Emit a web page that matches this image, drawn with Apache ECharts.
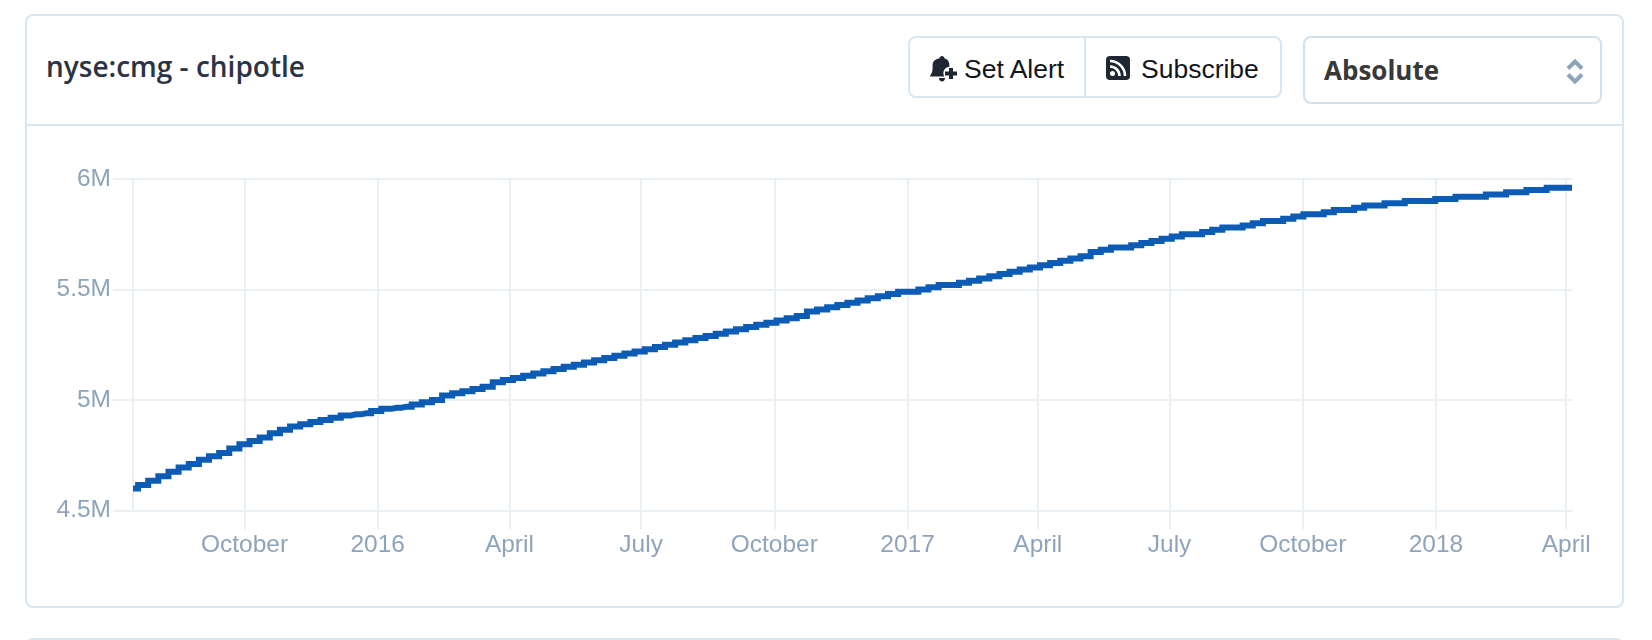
<!DOCTYPE html>
<html>
<head>
<meta charset="utf-8">
<title>nyse:cmg - chipotle</title>
<script src="https://cdn.jsdelivr.net/npm/echarts@6/dist/echarts.min.js"></script>
<style>
    html, body { margin: 0; padding: 0; background: #fff; }
    #page { position: relative; width: 1652px; height: 640px; overflow: hidden; }
    #main { position: absolute; left: 0; top: 0; width: 1652px; height: 640px; }
    .box { position: absolute; box-sizing: border-box; border: 2px solid #d8e6f2; border-radius: 8px; background: #fff; }
    .line { position: absolute; background: #d8e6f2; }
    .txt { position: absolute; white-space: nowrap; line-height: 1; }
    .btn { font: 26.5px "Liberation Sans", sans-serif; color: #12161c; }
    svg { position: absolute; }
</style>
</head>
<body>
<div id="page">
    <div class="box" style="left:25px;top:14px;width:1599px;height:594px"></div>
    <div class="line" style="left:25px;top:124px;width:1599px;height:2px"></div>
    <div class="box" style="left:25px;top:638px;width:1599px;height:20px"></div>
    <div class="txt" style="left:46px;top:47px;font:600 28px 'Open Sans',sans-serif;color:#2a3444">nyse:cmg - chipotle</div>

    <div class="box" style="left:908px;top:36px;width:374px;height:62px"></div>
    <div class="line" style="left:1084px;top:37px;width:2px;height:60px"></div>
    <svg style="left:930px;top:56px" width="28" height="26" viewBox="0 0 28 26">
        <path fill="#1f2733" d="M12 0c1.4 0 2.4 1 2.4 2.2 3.4.9 5 3.6 5 7v1.6c-3.6.4-6 3-6 6.400 0 1.200.3 2.300.9 3.300H0c0-1.500 2.600-2.600 2.600-8.700V9.200c0-3.400 2-6.100 7-7C9.600 1 10.600 0 12 0zM9 22h6c0 2-1.300 3.500-3 3.500S9 24 9 22z"/>
        <path fill="#1f2733" d="M19 12h4v3.500h4v4h-4V23h-4v-3.500h-4v-4h4z"/>
    </svg>
    <div class="txt btn" style="left:964px;top:54px">Set Alert</div>
    <svg style="left:1106px;top:56px" width="24" height="24" viewBox="0 0 24 24">
        <rect width="24" height="24" rx="4" fill="#1f2733"/>
        <circle cx="6.500" cy="17.500" r="2.500" fill="#fff"/>
        <path fill="none" stroke="#fff" stroke-width="2.600" d="M4 10.500a9.500 9.500 0 0 1 9.500 9.500M4 5a15 15 0 0 1 15 15"/>
    </svg>
    <div class="txt btn" style="left:1141px;top:54px">Subscribe</div>

    <div class="box" style="left:1303px;top:36px;width:299px;height:68px;border-color:#d2e0ec"></div>
    <div class="txt" style="left:1324px;top:52px;font:700 26px 'Open Sans',sans-serif;color:#383838">Absolute</div>
    <svg style="left:1566px;top:59px" width="18" height="25" viewBox="0 0 18 25">
        <path fill="none" stroke="#8ea4bb" stroke-width="4" d="M2 9.500l7-7 7 7M2 15.500l7 7 7-7"/>
    </svg>
    <div id="main"></div>
</div>
<script>
// one reading a week, in millions
const startDate = '2015-07-16';
const values = [
    4.60, 4.615, 4.635, 4.655, 4.675, 4.695, 4.71, 4.73, 4.745, 4.76,
    4.78, 4.80, 4.815, 4.83, 4.85, 4.865, 4.88, 4.89, 4.90, 4.91,
    4.92, 4.93, 4.935, 4.94, 4.95, 4.96, 4.965, 4.97, 4.98, 4.99,
    5.00, 5.02, 5.03, 5.04, 5.05, 5.06, 5.08, 5.09, 5.10, 5.11,
    5.12, 5.13, 5.14, 5.15, 5.16, 5.17, 5.18, 5.19, 5.20, 5.21,
    5.22, 5.23, 5.24, 5.25, 5.26, 5.27, 5.28, 5.29, 5.30, 5.31,
    5.32, 5.33, 5.34, 5.35, 5.36, 5.37, 5.38, 5.40, 5.41, 5.42,
    5.43, 5.44, 5.45, 5.46, 5.47, 5.48, 5.49, 5.49, 5.50, 5.51,
    5.52, 5.52, 5.53, 5.54, 5.55, 5.56, 5.57, 5.58, 5.59, 5.60,
    5.61, 5.62, 5.63, 5.64, 5.65, 5.67, 5.68, 5.69, 5.69, 5.70,
    5.71, 5.72, 5.73, 5.74, 5.75, 5.75, 5.76, 5.77, 5.78, 5.78,
    5.79, 5.80, 5.81, 5.81, 5.82, 5.83, 5.84, 5.84, 5.85, 5.86,
    5.86, 5.87, 5.88, 5.88, 5.89, 5.89, 5.90, 5.90, 5.90, 5.91,
    5.91, 5.92, 5.92, 5.92, 5.93, 5.93, 5.94, 5.94, 5.95, 5.95,
    5.96, 5.96, 5.96
];
const tickDates = ['2015-10-01', '2016-01-01', '2016-04-01', '2016-07-01', '2016-10-01', '2017-01-01',
    '2017-04-01', '2017-07-01', '2017-10-01', '2018-01-01', '2018-04-01'];
const tickLabels = ['October', '2016', 'April', 'July', 'October', '2017', 'April', 'July', 'October', '2018', 'April'];

let myChart = echarts.init(document.getElementById('main'), null, { renderer: 'canvas' });
const DAY = 86400000;
const startTime = Date.parse(startDate);
const seriesData = values.map((v, i) => [startTime + i * 7 * DAY, v]);
const tickTimes = tickDates.map(d => Date.parse(d));
const gridColor = '#ebf0f5';
const labelColor = '#8ea4bb';
const labelFont = '"Liberation Sans", sans-serif';

myChart.setOption({
    animation: false,
    backgroundColor: 'transparent',
    grid: { left: 133, top: 179, width: 1439, height: 331.5 },
    tooltip: { trigger: 'axis' },
    xAxis: {
        // plain value axis on timestamps, the time axis breaks on customValues
        type: 'value',
        scale: true,
        min: startTime,
        max: startTime + (values.length - 1) * 7 * DAY,
        axisLine: { show: true, lineStyle: { color: gridColor, width: 2 } },
        axisTick: { show: true, customValues: tickTimes, length: 19, lineStyle: { color: gridColor, width: 2 } },
        splitLine: { show: true, lineStyle: { color: gridColor, width: 2 } },
        axisLabel: {
            customValues: tickTimes,
            margin: 22,
            color: labelColor,
            fontSize: 24.5,
            fontFamily: labelFont,
            hideOverlap: false,
            formatter: function (value) {
                return tickLabels[tickTimes.indexOf(value)];
            }
        }
    },
    yAxis: {
        type: 'value',
        min: 4.5,
        max: 6,
        interval: 0.5,
        axisLine: { show: true, lineStyle: { color: gridColor, width: 2 } },
        axisTick: { show: true, length: 20, lineStyle: { color: gridColor, width: 2 } },
        splitLine: { show: true, lineStyle: { color: gridColor, width: 2 } },
        axisLabel: {
            margin: 22,
            color: labelColor,
            fontSize: 24.5,
            fontFamily: labelFont,
            formatter: function (value) {
                return value + 'M';
            }
        }
    },
    series: [{
        name: 'nyse:cmg - chipotle',
        type: 'line',
        step: 'middle',
        showSymbol: false,
        data: seriesData,
        lineStyle: { color: '#0c5cb6', width: 6, cap: 'butt', join: 'miter' }
    }]
});
</script>
</body>
</html>
